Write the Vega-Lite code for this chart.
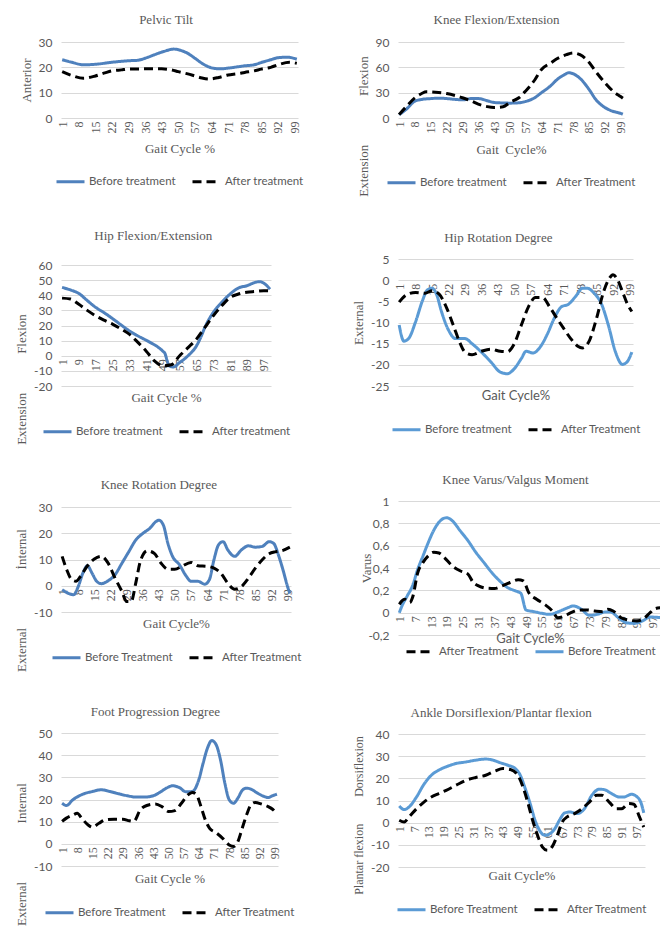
{
"$schema": "https://vega.github.io/schema/vega-lite/v6.json",
"background": "white",
"padding": {"left": 15, "top": 13, "right": 2, "bottom": 2},
"datasets": {
"p1": [
{"x":1,"s":"B","v":23},{"x":5,"s":"B","v":22},{"x":10,"s":"B","v":21},{"x":15,"s":"B","v":21.2},{"x":22,"s":"B","v":22},{"x":29,"s":"B","v":22.6},{"x":33,"s":"B","v":22.8},{"x":36,"s":"B","v":23.6},{"x":40,"s":"B","v":25},{"x":44,"s":"B","v":26.3},{"x":48,"s":"B","v":27.2},{"x":51,"s":"B","v":26.7},{"x":54,"s":"B","v":25.5},{"x":57,"s":"B","v":23.6},{"x":61,"s":"B","v":21},{"x":65,"s":"B","v":19.6},{"x":68,"s":"B","v":19.4},{"x":71,"s":"B","v":19.7},{"x":75,"s":"B","v":20.2},{"x":78,"s":"B","v":20.6},{"x":82,"s":"B","v":21},{"x":85,"s":"B","v":21.9},{"x":89,"s":"B","v":23},{"x":92,"s":"B","v":23.8},{"x":96,"s":"B","v":24},{"x":100,"s":"B","v":23.2},
{"x":1,"s":"A","v":18.3},{"x":5,"s":"A","v":16.8},{"x":10,"s":"A","v":15.7},{"x":15,"s":"A","v":16.6},{"x":19,"s":"A","v":17.8},{"x":22,"s":"A","v":18.6},{"x":26,"s":"A","v":19},{"x":29,"s":"A","v":19.3},{"x":36,"s":"A","v":19.4},{"x":43,"s":"A","v":19.4},{"x":47,"s":"A","v":19},{"x":50,"s":"A","v":18.3},{"x":54,"s":"A","v":17.4},{"x":57,"s":"A","v":16.6},{"x":60,"s":"A","v":15.8},{"x":63,"s":"A","v":15.4},{"x":67,"s":"A","v":16},{"x":71,"s":"A","v":17},{"x":75,"s":"A","v":17.5},{"x":78,"s":"A","v":18},{"x":82,"s":"A","v":18.6},{"x":85,"s":"A","v":19.3},{"x":89,"s":"A","v":20},{"x":92,"s":"A","v":21},{"x":97,"s":"A","v":22},{"x":100,"s":"A","v":21.6}
],
"p2": [
{"x":1,"s":"B","v":3.9},{"x":4,"s":"B","v":10},{"x":8,"s":"B","v":20},{"x":11,"s":"B","v":22},{"x":15,"s":"B","v":23},{"x":19,"s":"B","v":23.5},{"x":22,"s":"B","v":23},{"x":26,"s":"B","v":22},{"x":29,"s":"B","v":21.5},{"x":33,"s":"B","v":23},{"x":36,"s":"B","v":23},{"x":40,"s":"B","v":20.5},{"x":43,"s":"B","v":18.4},{"x":47,"s":"B","v":17.8},{"x":50,"s":"B","v":17.6},{"x":54,"s":"B","v":18},{"x":57,"s":"B","v":19.6},{"x":61,"s":"B","v":24},{"x":64,"s":"B","v":30},{"x":68,"s":"B","v":38},{"x":71,"s":"B","v":45.8},{"x":74,"s":"B","v":51},{"x":76,"s":"B","v":53.6},{"x":78,"s":"B","v":52.4},{"x":81,"s":"B","v":47},{"x":85,"s":"B","v":34},{"x":88,"s":"B","v":22},{"x":92,"s":"B","v":12.5},{"x":95,"s":"B","v":8.5},{"x":99,"s":"B","v":5.5},{"x":100,"s":"B","v":4.5},
{"x":1,"s":"A","v":4},{"x":4,"s":"A","v":13},{"x":8,"s":"A","v":24},{"x":11,"s":"A","v":29},{"x":13,"s":"A","v":31},{"x":17,"s":"A","v":30.5},{"x":22,"s":"A","v":29},{"x":26,"s":"A","v":26.5},{"x":29,"s":"A","v":24},{"x":33,"s":"A","v":20},{"x":36,"s":"A","v":16.4},{"x":40,"s":"A","v":13.5},{"x":43,"s":"A","v":12.5},{"x":47,"s":"A","v":13.3},{"x":50,"s":"A","v":18.4},{"x":54,"s":"A","v":24},{"x":57,"s":"A","v":32},{"x":61,"s":"A","v":45},{"x":64,"s":"A","v":57.5},{"x":68,"s":"A","v":65},{"x":71,"s":"A","v":70.4},{"x":75,"s":"A","v":75},{"x":78,"s":"A","v":77},{"x":81,"s":"A","v":75},{"x":85,"s":"A","v":66},{"x":88,"s":"A","v":55},{"x":92,"s":"A","v":42},{"x":96,"s":"A","v":31},{"x":99,"s":"A","v":25.4},{"x":100,"s":"A","v":23.5}
],
"p3": [
{"x":1,"s":"B","v":45.2},{"x":5,"s":"B","v":43.5},{"x":9,"s":"B","v":41.2},{"x":13,"s":"B","v":36.5},{"x":17,"s":"B","v":32},{"x":21,"s":"B","v":28.5},{"x":25,"s":"B","v":24.6},{"x":29,"s":"B","v":20.5},{"x":33,"s":"B","v":16.5},{"x":37,"s":"B","v":13.2},{"x":41,"s":"B","v":10.3},{"x":44,"s":"B","v":8},{"x":47,"s":"B","v":5.4},{"x":49,"s":"B","v":3},{"x":50,"s":"B","v":1.5},{"x":51,"s":"B","v":-3},{"x":52,"s":"B","v":-6.7},{"x":54,"s":"B","v":-7.4},{"x":57,"s":"B","v":-4.5},{"x":61,"s":"B","v":0},{"x":65,"s":"B","v":6.5},{"x":67,"s":"B","v":12},{"x":69,"s":"B","v":18.7},{"x":73,"s":"B","v":28.6},{"x":77,"s":"B","v":35.2},{"x":81,"s":"B","v":40.8},{"x":85,"s":"B","v":44.8},{"x":89,"s":"B","v":46.3},{"x":93,"s":"B","v":48.5},{"x":95,"s":"B","v":49},{"x":98,"s":"B","v":47},{"x":100,"s":"B","v":44},
{"x":1,"s":"A","v":38.1},{"x":5,"s":"A","v":37.5},{"x":9,"s":"A","v":34},{"x":13,"s":"A","v":30},{"x":17,"s":"A","v":26.4},{"x":21,"s":"A","v":23.5},{"x":25,"s":"A","v":20.9},{"x":29,"s":"A","v":17.8},{"x":33,"s":"A","v":14.3},{"x":37,"s":"A","v":9},{"x":41,"s":"A","v":3.2},{"x":45,"s":"A","v":-3.4},{"x":49,"s":"A","v":-6.7},{"x":53,"s":"A","v":-6},{"x":57,"s":"A","v":0},{"x":61,"s":"A","v":5.4},{"x":65,"s":"A","v":11},{"x":69,"s":"A","v":18.7},{"x":73,"s":"A","v":26.4},{"x":77,"s":"A","v":33},{"x":81,"s":"A","v":38.5},{"x":85,"s":"A","v":40.8},{"x":89,"s":"A","v":42},{"x":93,"s":"A","v":42.5},{"x":97,"s":"A","v":43},{"x":100,"s":"A","v":43}
],
"p4": [
{"x":1,"s":"B","v":-10.6},{"x":3,"s":"B","v":-14.4},{"x":5,"s":"B","v":-13.8},{"x":8,"s":"B","v":-9.8},{"x":11,"s":"B","v":-4.7},{"x":13,"s":"B","v":-2.3},{"x":15,"s":"B","v":-1.9},{"x":17,"s":"B","v":-3.5},{"x":19,"s":"B","v":-7.4},{"x":22,"s":"B","v":-11.8},{"x":25,"s":"B","v":-13.8},{"x":29,"s":"B","v":-13.8},{"x":32,"s":"B","v":-15},{"x":36,"s":"B","v":-17},{"x":40,"s":"B","v":-19.3},{"x":44,"s":"B","v":-21.7},{"x":47,"s":"B","v":-22.1},{"x":50,"s":"B","v":-20.9},{"x":53,"s":"B","v":-18.5},{"x":55,"s":"B","v":-16.8},{"x":58,"s":"B","v":-17.2},{"x":61,"s":"B","v":-15.8},{"x":64,"s":"B","v":-12.8},{"x":67,"s":"B","v":-9},{"x":70,"s":"B","v":-6.3},{"x":73,"s":"B","v":-5.7},{"x":76,"s":"B","v":-3.9},{"x":79,"s":"B","v":-1.9},{"x":81,"s":"B","v":-1.9},{"x":84,"s":"B","v":-3.1},{"x":87,"s":"B","v":-5.5},{"x":90,"s":"B","v":-10.6},{"x":93,"s":"B","v":-16.9},{"x":96,"s":"B","v":-19.9},{"x":98,"s":"B","v":-19.3},{"x":100,"s":"B","v":-17},
{"x":1,"s":"A","v":-5.2},{"x":4,"s":"A","v":-3.5},{"x":8,"s":"A","v":-2.9},{"x":12,"s":"A","v":-3.1},{"x":15,"s":"A","v":-2.5},{"x":18,"s":"A","v":-3.3},{"x":21,"s":"A","v":-6.3},{"x":24,"s":"A","v":-10.6},{"x":27,"s":"A","v":-15},{"x":29,"s":"A","v":-17},{"x":32,"s":"A","v":-17.6},{"x":36,"s":"A","v":-16.8},{"x":40,"s":"A","v":-16.3},{"x":44,"s":"A","v":-16.8},{"x":47,"s":"A","v":-16.9},{"x":50,"s":"A","v":-15},{"x":53,"s":"A","v":-10.6},{"x":56,"s":"A","v":-6.3},{"x":59,"s":"A","v":-4.1},{"x":62,"s":"A","v":-4.1},{"x":65,"s":"A","v":-6.3},{"x":68,"s":"A","v":-8.9},{"x":71,"s":"A","v":-11.4},{"x":74,"s":"A","v":-13.8},{"x":77,"s":"A","v":-15.6},{"x":79,"s":"A","v":-16},{"x":82,"s":"A","v":-14.2},{"x":85,"s":"A","v":-9},{"x":88,"s":"A","v":-2.7},{"x":90,"s":"A","v":0},{"x":92,"s":"A","v":1.3},{"x":94,"s":"A","v":0},{"x":96,"s":"A","v":-2.7},{"x":98,"s":"A","v":-5.5},{"x":100,"s":"A","v":-7.4}
],
"p5": [
{"x":1,"s":"B","v":-1.5},{"x":4,"s":"B","v":-3},{"x":6,"s":"B","v":-3.4},{"x":8,"s":"B","v":-0.3},{"x":10,"s":"B","v":4.8},{"x":12,"s":"B","v":7.6},{"x":14,"s":"B","v":4.8},{"x":16,"s":"B","v":1.7},{"x":18,"s":"B","v":0.8},{"x":21,"s":"B","v":1.9},{"x":24,"s":"B","v":4.2},{"x":27,"s":"B","v":8.6},{"x":30,"s":"B","v":13},{"x":33,"s":"B","v":17.4},{"x":36,"s":"B","v":19.9},{"x":39,"s":"B","v":21.8},{"x":42,"s":"B","v":24.6},{"x":43,"s":"B","v":25},{"x":45,"s":"B","v":23.1},{"x":47,"s":"B","v":16.1},{"x":49,"s":"B","v":11.2},{"x":52,"s":"B","v":8},{"x":55,"s":"B","v":3.6},{"x":57,"s":"B","v":1.7},{"x":60,"s":"B","v":1.7},{"x":63,"s":"B","v":0.6},{"x":65,"s":"B","v":2.3},{"x":67,"s":"B","v":9.9},{"x":69,"s":"B","v":15.6},{"x":71,"s":"B","v":16.8},{"x":73,"s":"B","v":13.7},{"x":76,"s":"B","v":11.2},{"x":79,"s":"B","v":13.7},{"x":82,"s":"B","v":15.2},{"x":85,"s":"B","v":14.7},{"x":88,"s":"B","v":15},{"x":91,"s":"B","v":16.8},{"x":93,"s":"B","v":16.1},{"x":95,"s":"B","v":11.8},{"x":97,"s":"B","v":6.1},{"x":99,"s":"B","v":-0.3},{"x":100,"s":"B","v":-3},
{"x":1,"s":"A","v":11.2},{"x":3,"s":"A","v":6.1},{"x":5,"s":"A","v":2.5},{"x":7,"s":"A","v":1.7},{"x":9,"s":"A","v":3.6},{"x":12,"s":"A","v":7.6},{"x":15,"s":"A","v":10.2},{"x":18,"s":"A","v":11.2},{"x":21,"s":"A","v":8.6},{"x":24,"s":"A","v":2.9},{"x":27,"s":"A","v":-2.2},{"x":29,"s":"A","v":-6},{"x":31,"s":"A","v":-6},{"x":33,"s":"A","v":1},{"x":35,"s":"A","v":9.3},{"x":38,"s":"A","v":13.3},{"x":41,"s":"A","v":12.4},{"x":44,"s":"A","v":8.6},{"x":47,"s":"A","v":6.3},{"x":50,"s":"A","v":6.3},{"x":53,"s":"A","v":7.4},{"x":57,"s":"A","v":8.9},{"x":60,"s":"A","v":7.6},{"x":64,"s":"A","v":7.4},{"x":67,"s":"A","v":6.7},{"x":70,"s":"A","v":4.8},{"x":73,"s":"A","v":1},{"x":76,"s":"A","v":-1.3},{"x":79,"s":"A","v":-0.3},{"x":82,"s":"A","v":2.9},{"x":85,"s":"A","v":6.7},{"x":88,"s":"A","v":9.9},{"x":91,"s":"A","v":12.2},{"x":94,"s":"A","v":13},{"x":97,"s":"A","v":13.5},{"x":100,"s":"A","v":14.7}
],
"p6": [
{"x":1,"s":"B","v":0},{"x":2,"s":"B","v":0.06},{"x":4,"s":"B","v":0.15},{"x":6,"s":"B","v":0.24},{"x":8,"s":"B","v":0.39},{"x":10,"s":"B","v":0.51},{"x":12,"s":"B","v":0.63},{"x":14,"s":"B","v":0.735},{"x":16,"s":"B","v":0.81},{"x":18,"s":"B","v":0.846},{"x":19,"s":"B","v":0.85},{"x":21,"s":"B","v":0.825},{"x":24,"s":"B","v":0.735},{"x":27,"s":"B","v":0.645},{"x":30,"s":"B","v":0.54},{"x":33,"s":"B","v":0.45},{"x":36,"s":"B","v":0.36},{"x":39,"s":"B","v":0.285},{"x":42,"s":"B","v":0.225},{"x":45,"s":"B","v":0.195},{"x":47,"s":"B","v":0.174},{"x":49,"s":"B","v":0.024},{"x":52,"s":"B","v":0.009},{"x":55,"s":"B","v":-0.006},{"x":58,"s":"B","v":-0.015},{"x":61,"s":"B","v":0.006},{"x":64,"s":"B","v":0.036},{"x":67,"s":"B","v":0.06},{"x":70,"s":"B","v":0.03},{"x":73,"s":"B","v":-0.024},{"x":76,"s":"B","v":-0.015},{"x":79,"s":"B","v":0.006},{"x":81,"s":"B","v":0.006},{"x":84,"s":"B","v":-0.045},{"x":87,"s":"B","v":-0.09},{"x":90,"s":"B","v":-0.096},{"x":93,"s":"B","v":-0.075},{"x":96,"s":"B","v":-0.039},{"x":100,"s":"B","v":-0.045},
{"x":1,"s":"A","v":0.075},{"x":2,"s":"A","v":0.105},{"x":3,"s":"A","v":0.12},{"x":5,"s":"A","v":0.09},{"x":6,"s":"A","v":0.135},{"x":8,"s":"A","v":0.36},{"x":10,"s":"A","v":0.45},{"x":12,"s":"A","v":0.51},{"x":14,"s":"A","v":0.54},{"x":16,"s":"A","v":0.534},{"x":18,"s":"A","v":0.495},{"x":21,"s":"A","v":0.42},{"x":24,"s":"A","v":0.375},{"x":27,"s":"A","v":0.345},{"x":29,"s":"A","v":0.27},{"x":31,"s":"A","v":0.24},{"x":34,"s":"A","v":0.219},{"x":37,"s":"A","v":0.216},{"x":40,"s":"A","v":0.24},{"x":43,"s":"A","v":0.27},{"x":46,"s":"A","v":0.294},{"x":48,"s":"A","v":0.285},{"x":50,"s":"A","v":0.18},{"x":53,"s":"A","v":0.12},{"x":56,"s":"A","v":0.075},{"x":59,"s":"A","v":0.015},{"x":61,"s":"A","v":-0.045},{"x":63,"s":"A","v":-0.036},{"x":66,"s":"A","v":0},{"x":69,"s":"A","v":0.024},{"x":72,"s":"A","v":0.024},{"x":75,"s":"A","v":0.015},{"x":78,"s":"A","v":0.009},{"x":80,"s":"A","v":0.03},{"x":82,"s":"A","v":0.015},{"x":85,"s":"A","v":-0.045},{"x":88,"s":"A","v":-0.066},{"x":91,"s":"A","v":-0.075},{"x":94,"s":"A","v":-0.045},{"x":96,"s":"A","v":0},{"x":98,"s":"A","v":0.036},{"x":100,"s":"A","v":0.045}
],
"p7": [
{"x":1,"s":"B","v":18.3},{"x":3,"s":"B","v":17.3},{"x":6,"s":"B","v":19.9},{"x":9,"s":"B","v":21.7},{"x":12,"s":"B","v":22.9},{"x":15,"s":"B","v":23.6},{"x":19,"s":"B","v":24.4},{"x":23,"s":"B","v":23.6},{"x":27,"s":"B","v":22.6},{"x":31,"s":"B","v":21.7},{"x":35,"s":"B","v":21.1},{"x":39,"s":"B","v":21.1},{"x":43,"s":"B","v":21.7},{"x":46,"s":"B","v":23.2},{"x":49,"s":"B","v":25.1},{"x":52,"s":"B","v":26.2},{"x":55,"s":"B","v":25.4},{"x":58,"s":"B","v":23.5},{"x":61,"s":"B","v":23.6},{"x":64,"s":"B","v":28.9},{"x":66,"s":"B","v":36.4},{"x":68,"s":"B","v":43.2},{"x":70,"s":"B","v":46.6},{"x":72,"s":"B","v":44.7},{"x":74,"s":"B","v":37.9},{"x":76,"s":"B","v":27.4},{"x":78,"s":"B","v":19.9},{"x":80,"s":"B","v":18.3},{"x":82,"s":"B","v":20.6},{"x":84,"s":"B","v":24.1},{"x":86,"s":"B","v":25.1},{"x":88,"s":"B","v":24.7},{"x":91,"s":"B","v":22.9},{"x":94,"s":"B","v":21.4},{"x":96,"s":"B","v":20.9},{"x":98,"s":"B","v":21.7},{"x":100,"s":"B","v":22.4},
{"x":1,"s":"A","v":10.1},{"x":3,"s":"A","v":11.6},{"x":6,"s":"A","v":13},{"x":8,"s":"A","v":13.8},{"x":10,"s":"A","v":11.6},{"x":13,"s":"A","v":8.5},{"x":15,"s":"A","v":7.5},{"x":18,"s":"A","v":9.3},{"x":21,"s":"A","v":10.8},{"x":25,"s":"A","v":11.1},{"x":29,"s":"A","v":11.1},{"x":32,"s":"A","v":10.4},{"x":34,"s":"A","v":10.1},{"x":37,"s":"A","v":15.3},{"x":40,"s":"A","v":17.3},{"x":44,"s":"A","v":18},{"x":47,"s":"A","v":16.8},{"x":50,"s":"A","v":14.6},{"x":53,"s":"A","v":15},{"x":56,"s":"A","v":18.3},{"x":59,"s":"A","v":22.1},{"x":61,"s":"A","v":23.2},{"x":63,"s":"A","v":22.1},{"x":65,"s":"A","v":16.8},{"x":67,"s":"A","v":10.8},{"x":69,"s":"A","v":7},{"x":72,"s":"A","v":5},{"x":75,"s":"A","v":2.5},{"x":78,"s":"A","v":-0.5},{"x":80,"s":"A","v":-1.2},{"x":82,"s":"A","v":1},{"x":84,"s":"A","v":7},{"x":86,"s":"A","v":13},{"x":88,"s":"A","v":17.6},{"x":90,"s":"A","v":18.7},{"x":93,"s":"A","v":17.9},{"x":96,"s":"A","v":16.8},{"x":98,"s":"A","v":15.6},{"x":100,"s":"A","v":13.5}
],
"p8": [
{"x":1,"s":"B","v":7.5},{"x":3,"s":"B","v":5.9},{"x":5,"s":"B","v":7.1},{"x":8,"s":"B","v":11.6},{"x":11,"s":"B","v":17.3},{"x":14,"s":"B","v":21.4},{"x":17,"s":"B","v":23.7},{"x":20,"s":"B","v":25.2},{"x":24,"s":"B","v":26.7},{"x":28,"s":"B","v":27.4},{"x":32,"s":"B","v":28.2},{"x":36,"s":"B","v":28.7},{"x":39,"s":"B","v":28.2},{"x":42,"s":"B","v":27},{"x":45,"s":"B","v":25.9},{"x":48,"s":"B","v":24.4},{"x":50,"s":"B","v":21.4},{"x":52,"s":"B","v":15.4},{"x":54,"s":"B","v":8.6},{"x":56,"s":"B","v":1.1},{"x":58,"s":"B","v":-3.8},{"x":60,"s":"B","v":-5.7},{"x":62,"s":"B","v":-5},{"x":64,"s":"B","v":-2.7},{"x":66,"s":"B","v":1.4},{"x":68,"s":"B","v":4.4},{"x":70,"s":"B","v":4.8},{"x":73,"s":"B","v":4.1},{"x":76,"s":"B","v":6.3},{"x":79,"s":"B","v":12.4},{"x":82,"s":"B","v":15.1},{"x":84,"s":"B","v":14.9},{"x":87,"s":"B","v":13.1},{"x":90,"s":"B","v":11.6},{"x":92,"s":"B","v":11.6},{"x":95,"s":"B","v":12.8},{"x":97,"s":"B","v":11.9},{"x":99,"s":"B","v":8.6},{"x":100,"s":"B","v":4.4},
{"x":1,"s":"A","v":1.1},{"x":3,"s":"A","v":0.3},{"x":5,"s":"A","v":2.6},{"x":8,"s":"A","v":6.3},{"x":11,"s":"A","v":9.3},{"x":14,"s":"A","v":11.6},{"x":17,"s":"A","v":13.1},{"x":20,"s":"A","v":14.6},{"x":24,"s":"A","v":16.9},{"x":28,"s":"A","v":19.1},{"x":32,"s":"A","v":20.4},{"x":36,"s":"A","v":21.4},{"x":40,"s":"A","v":23.4},{"x":43,"s":"A","v":24.4},{"x":46,"s":"A","v":24},{"x":49,"s":"A","v":21.4},{"x":51,"s":"A","v":16.4},{"x":53,"s":"A","v":9.3},{"x":55,"s":"A","v":1.1},{"x":57,"s":"A","v":-5.7},{"x":59,"s":"A","v":-11},{"x":61,"s":"A","v":-12.5},{"x":63,"s":"A","v":-10.7},{"x":65,"s":"A","v":-5.7},{"x":67,"s":"A","v":0.3},{"x":69,"s":"A","v":2.6},{"x":72,"s":"A","v":4.1},{"x":75,"s":"A","v":6.3},{"x":78,"s":"A","v":9.3},{"x":81,"s":"A","v":12.4},{"x":83,"s":"A","v":12.4},{"x":86,"s":"A","v":9.3},{"x":89,"s":"A","v":6.3},{"x":91,"s":"A","v":6.3},{"x":94,"s":"A","v":8.6},{"x":96,"s":"A","v":8.3},{"x":98,"s":"A","v":3.3},{"x":100,"s":"A","v":-2}
]
},
"hconcat": [
{
"concat": [
{
"data": {"name": "p1"}, "width": 237, "height": 76,
"title": {"text": "Pelvic Tilt", "offset": 9.5},
"mark": "line",
"encoding": {
"x": {"field": "x", "type": "quantitative", "scale": {"domain": [0.5, 100.5], "nice": false}, "axis": {"values": [1,8,15,22,29,36,43,50,57,64,71,78,85,92,99], "title": "Gait Cycle %", "titleY": 24}},
"y": {"field": "v", "type": "quantitative", "scale": {"domain": [0, 30], "nice": false}, "axis": {"values": [0,10,20,30], "title": "Anterior", "labelExpr": "toString(datum.value)"}},
"color": {"field": "s", "type": "nominal", "scale": {"domain": ["B","A"], "range": ["#4F81BD","#000000"]}, "legend": {"title": null, "offset": 3, "padding": 8, "labelExpr": "datum.label == 'B' ? 'Before treatment' : 'After treatment'"}},
"strokeDash": {"field": "s", "type": "nominal", "scale": {"domain": ["B","A"], "range": [[1,0],[9,5]]}, "legend": {"title": null, "offset": 3, "padding": 8, "labelExpr": "datum.label == 'B' ? 'Before treatment' : 'After treatment'"}}
}
},
{
"data": {"name": "p3"}, "width": 210, "height": 121,
"title": {"text": "Hip Flexion/Extension", "offset": 16.5},
"mark": "line",
"encoding": {
"x": {"field": "x", "type": "quantitative", "scale": {"domain": [0.5, 100.5], "nice": false}, "axis": {"values": [1,9,17,25,33,41,49,57,65,73,81,89,97], "offset": -30.25, "title": "Gait Cycle %", "titleY": 36}},
"y": {"field": "v", "type": "quantitative", "scale": {"domain": [-20, 60], "nice": false}, "axis": {"values": [-20,-10,0,10,20,30,40,50,60], "title": "Extension\u00a0\u00a0\u00a0\u00a0\u00a0\u00a0\u00a0\u00a0\u00a0\u00a0\u00a0\u00a0Flexion", "titleY": 114, "labelExpr": "toString(datum.value)"}},
"color": {"field": "s", "type": "nominal", "scale": {"domain": ["B","A"], "range": ["#4F81BD","#000000"]}, "legend": {"title": null, "labelExpr": "datum.label == 'B' ? 'Before treatment' : 'After treatment'"}},
"strokeDash": {"field": "s", "type": "nominal", "scale": {"domain": ["B","A"], "range": [[1,0],[9,5]]}, "legend": {"title": null, "labelExpr": "datum.label == 'B' ? 'Before treatment' : 'After treatment'"}}
}
},
{
"data": {"name": "p5"}, "width": 230, "height": 105,
"title": {"text": "Knee Rotation Degree", "offset": 9.5},
"mark": "line",
"encoding": {
"x": {"field": "x", "type": "quantitative", "scale": {"domain": [0.5, 100.5], "nice": false}, "axis": {"values": [1,8,15,22,29,36,43,50,57,64,71,78,85,92,99], "offset": -26.25, "title": "Gait Cycle%", "titleY": 32}},
"y": {"field": "v", "type": "quantitative", "scale": {"domain": [-10, 30], "nice": false}, "axis": {"values": [-10,0,10,20,30], "title": "External\u00a0\u00a0\u00a0\u00a0\u00a0\u00a0\u00a0\u00a0\u00a0\u00a0\u00a0\u00a0\u00a0\u00a0\u00a0\u00a0\u00a0\u00a0İnternal", "titleY": 93, "labelExpr": "toString(datum.value)"}},
"color": {"field": "s", "type": "nominal", "scale": {"domain": ["B","A"], "range": ["#4F81BD","#000000"]}, "legend": {"title": null, "labelExpr": "datum.label == 'B' ? 'Before Treatment' : 'After Treatment'"}},
"strokeDash": {"field": "s", "type": "nominal", "scale": {"domain": ["B","A"], "range": [[1,0],[9,5]]}, "legend": {"title": null, "labelExpr": "datum.label == 'B' ? 'Before Treatment' : 'After Treatment'"}}
}
},
{
"data": {"name": "p7"}, "width": 217, "height": 133,
"title": {"text": "Foot Progression Degree", "offset": 8.5},
"mark": "line",
"encoding": {
"x": {"field": "x", "type": "quantitative", "scale": {"domain": [0.5, 100.5], "nice": false}, "axis": {"values": [1,8,15,22,29,36,43,50,57,64,71,78,85,92,99], "offset": -22.2, "title": "Gait Cycle %", "titleY": 29}},
"y": {"field": "v", "type": "quantitative", "scale": {"domain": [-10, 50], "nice": false}, "axis": {"values": [-10,0,10,20,30,40,50], "title": "External\u00a0\u00a0\u00a0\u00a0\u00a0\u00a0\u00a0\u00a0\u00a0\u00a0\u00a0\u00a0\u00a0\u00a0\u00a0\u00a0\u00a0\u00a0Internal", "titleY": 121, "labelExpr": "toString(datum.value)"}},
"color": {"field": "s", "type": "nominal", "scale": {"domain": ["B","A"], "range": ["#4F81BD","#000000"]}, "legend": {"title": null, "labelExpr": "datum.label == 'B' ? 'Before Treatment' : 'After Treatment'"}},
"strokeDash": {"field": "s", "type": "nominal", "scale": {"domain": ["B","A"], "range": [[1,0],[9,5]]}, "legend": {"title": null, "labelExpr": "datum.label == 'B' ? 'Before Treatment' : 'After Treatment'"}}
}
}
],
"columns": 1, "align": "none", "spacing": 33,
"resolve": {"scale": {"color": "independent", "strokeDash": "independent", "x": "independent", "y": "independent"}}
},
{
"concat": [
{
"data": {"name": "p2"}, "width": 226, "height": 76,
"title": {"text": "Knee Flexion/Extension", "offset": 9.5},
"mark": "line",
"encoding": {
"x": {"field": "x", "type": "quantitative", "scale": {"domain": [0.5, 100.5], "nice": false}, "axis": {"values": [1,8,15,22,29,36,43,50,57,64,71,78,85,92,99], "title": "Gait\u00a0 Cycle%", "titleY": 25}},
"y": {"field": "v", "type": "quantitative", "scale": {"domain": [0, 90], "nice": false}, "axis": {"values": [0,30,60,90], "title": "Extension\u00a0\u00a0\u00a0\u00a0\u00a0\u00a0\u00a0\u00a0\u00a0\u00a0\u00a0\u00a0\u00a0\u00a0\u00a0Flexion", "titleY": 84, "labelExpr": "toString(datum.value)"}},
"color": {"field": "s", "type": "nominal", "scale": {"domain": ["B","A"], "range": ["#4F81BD","#000000"]}, "legend": {"title": null, "labelExpr": "datum.label == 'B' ? 'Before treatment' : 'After Treatment'"}},
"strokeDash": {"field": "s", "type": "nominal", "scale": {"domain": ["B","A"], "range": [[1,0],[9,5]]}, "legend": {"title": null, "labelExpr": "datum.label == 'B' ? 'Before treatment' : 'After Treatment'"}}
}
},
{
"data": {"name": "p4"}, "width": 235, "height": 127,
"title": {"text": "Hip Rotation Degree", "offset": 8.5},
"mark": "line",
"encoding": {
"x": {"field": "x", "type": "quantitative", "scale": {"domain": [0.5, 100.5], "nice": false}, "axis": {"values": [1,8,15,22,29,36,43,50,57,64,71,78,85,92,99], "offset": -105.8, "title": "Gait Cycle%", "titleFont": "Lato", "titleY": 109}},
"y": {"field": "v", "type": "quantitative", "scale": {"domain": [-25, 5], "nice": false}, "axis": {"values": [-25,-20,-15,-10,-5,0,5], "title": "External", "labelExpr": "toString(datum.value)"}},
"color": {"field": "s", "type": "nominal", "scale": {"domain": ["B","A"], "range": ["#5B9BD5","#000000"]}, "legend": {"title": null, "offset": 8, "padding": 3, "labelExpr": "datum.label == 'B' ? 'Before treatment' : 'After Treatment'"}},
"strokeDash": {"field": "s", "type": "nominal", "scale": {"domain": ["B","A"], "range": [[1,0],[9,5]]}, "legend": {"title": null, "offset": 8, "padding": 3, "labelExpr": "datum.label == 'B' ? 'Before treatment' : 'After Treatment'"}}
}
},
{
"data": {"name": "p6"}, "width": 264, "height": 134,
"title": {"text": "Knee Varus/Valgus Moment", "offset": 8.5},
"mark": "line",
"encoding": {
"x": {"field": "x", "type": "quantitative", "scale": {"domain": [0.5, 100.5], "nice": false}, "axis": {"values": [1,7,13,19,25,31,37,43,49,55,61,67,73,79,85,91,97], "offset": -22.3, "title": "Gait Cycle%", "titleFont": "Lato", "titleY": 20}},
"y": {"field": "v", "type": "quantitative", "scale": {"domain": [-0.2, 1], "nice": false}, "axis": {"values": [-0.2,0,0.2,0.4,0.6,0.8,1], "title": "Varus", "titlePadding": -6, "labelExpr": "replace(toString(datum.value), '.', ',')"}},
"color": {"field": "s", "type": "nominal", "scale": {"domain": ["A","B"], "range": ["#000000","#5B9BD5"]}, "legend": {"title": null, "offset": -24, "padding": 14, "labelExpr": "datum.label == 'B' ? 'Before Treatment' : 'After Treatment'"}},
"strokeDash": {"field": "s", "type": "nominal", "scale": {"domain": ["A","B"], "range": [[9,5],[1,0]]}, "legend": {"title": null, "offset": -24, "padding": 14, "labelExpr": "datum.label == 'B' ? 'Before Treatment' : 'After Treatment'"}}
}
},
{
"data": {"name": "p8"}, "width": 247, "height": 133,
"title": {"text": "Ankle Dorsiflexion/Plantar flexion", "offset": 8.5},
"mark": "line",
"encoding": {
"x": {"field": "x", "type": "quantitative", "scale": {"domain": [0.5, 100.5], "nice": false}, "axis": {"values": [1,7,13,19,25,31,37,43,49,55,61,67,73,79,85,91,97], "offset": -44.3, "title": "Gait Cycle%", "titleY": 47}},
"y": {"field": "v", "type": "quantitative", "scale": {"domain": [-20, 40], "nice": false}, "axis": {"values": [-20,-10,0,10,20,30,40], "title": "Plantar flexion\u00a0\u00a0\u00a0\u00a0\u00a0\u00a0\u00a0\u00a0\u00a0Dorsiflexion", "titleFontSize": 12, "titleY": 81, "labelExpr": "toString(datum.value)"}},
"color": {"field": "s", "type": "nominal", "scale": {"domain": ["B","A"], "range": ["#5B9BD5","#000000"]}, "legend": {"title": null, "labelExpr": "datum.label == 'B' ? 'Before Treatment' : 'After Treatment'"}},
"strokeDash": {"field": "s", "type": "nominal", "scale": {"domain": ["B","A"], "range": [[1,0],[9,5]]}, "legend": {"title": null, "labelExpr": "datum.label == 'B' ? 'Before Treatment' : 'After Treatment'"}}
}
}
],
"columns": 1, "align": "none", "spacing": 34,
"resolve": {"scale": {"color": "independent", "strokeDash": "independent", "x": "independent", "y": "independent"}}
}
],
"spacing": 40,
"resolve": {"scale": {"color": "independent", "strokeDash": "independent", "x": "independent", "y": "independent"}},
"config": {
"view": {"stroke": null},
"font": "Lato",
"title": {"font": "Liberation Serif", "fontSize": 13, "fontWeight": "normal", "color": "#595959", "anchor": "middle", "frame": "bounds"},
"axis": {"ticks": false, "domain": false, "labelColor": "#595959", "titleColor": "#595959", "titleFont": "Liberation Serif", "titleFontSize": 13, "titleFontWeight": "normal", "labelFlush": false, "labelOverlap": false},
"axisX": {"grid": false, "labelAngle": -90, "labelFont": "Liberation Serif", "labelFontSize": 12, "labelPadding": 3},
"axisY": {"grid": true, "gridColor": "#D9D9D9", "gridWidth": 1, "labelFont": "Lato", "labelFontSize": 12, "labelPadding": 9, "titlePadding": 5},
"legend": {"orient": "bottom", "direction": "horizontal", "symbolType": "stroke", "symbolSize": 784, "symbolStrokeWidth": 3, "labelFont": "Lato", "labelFontSize": 11.5, "labelColor": "#595959", "columnPadding": 10, "labelOffset": 3, "offset": 11, "padding": 0, "layout": {"bottom": {"anchor": "middle"}}},
"line": {"strokeWidth": 3, "interpolate": "monotone"}
}
}
